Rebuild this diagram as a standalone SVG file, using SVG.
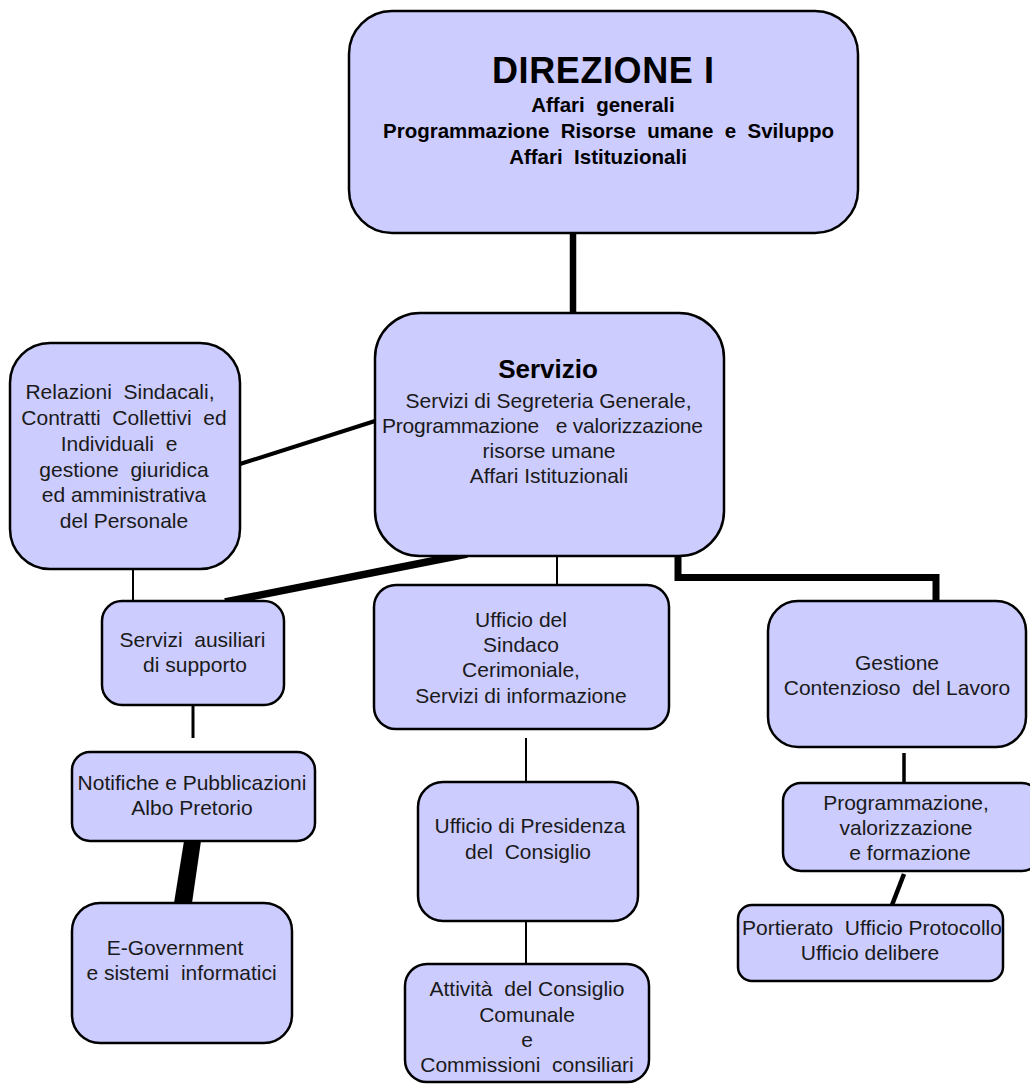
<svg xmlns="http://www.w3.org/2000/svg" width="1030" height="1087" viewBox="0 0 1030 1087">
<style>
.box{fill:#ccccff;stroke:#000;stroke-width:2.5}
.t{font-family:"Liberation Sans",Arial,sans-serif;font-size:21px;fill:#1a1a1a;text-anchor:middle;white-space:pre}
.b{font-weight:bold;fill:#000}
.h1{font-size:36px}
.h2{font-size:26px}
.s{font-size:20.5px}
.c{stroke:#000;fill:none;stroke-linecap:butt}
</style>
<rect width="1030" height="1087" fill="#fff"/>
<g id="connectors">
<line class="c" x1="573" y1="234" x2="573" y2="313" stroke-width="6.5"/>
<line class="c" x1="240" y1="464" x2="375" y2="421" stroke-width="4"/>
<line class="c" x1="133" y1="569" x2="133" y2="601" stroke-width="2"/>
<line class="c" x1="467" y1="554" x2="225" y2="602" stroke-width="7.5"/>
<line class="c" x1="557" y1="556" x2="557" y2="585" stroke-width="2"/>
<polyline class="c" points="678,556 678,577.5 936,577.5 936,601" stroke-width="7"/>
<line class="c" x1="193" y1="705" x2="193" y2="738" stroke-width="3"/>
<polygon points="184,841 201,841 192,903 174,903" fill="#000"/>
<line class="c" x1="526" y1="738" x2="526" y2="782" stroke-width="2"/>
<line class="c" x1="526" y1="921" x2="526" y2="964" stroke-width="2"/>
<line class="c" x1="904" y1="753" x2="904" y2="783" stroke-width="3.5"/>
<line class="c" x1="904" y1="874" x2="892" y2="905" stroke-width="4.5"/>
</g>
<g id="direzione">
<rect class="box" x="349" y="11" width="509" height="222" rx="43"/>
<text class="t b h1" x="603" y="83" textLength="222">DIREZIONE I</text>
<text class="t b s" x="603" y="112">Affari  generali</text>
<text class="t b s" x="608.5" y="138" textLength="451">Programmazione  Risorse  umane  e  Sviluppo</text>
<text class="t b s" x="598" y="164">Affari  Istituzionali</text>
</g>
<g id="servizio">
<rect class="box" x="375" y="313" width="349" height="243" rx="45"/>
<text class="t b h2" x="548" y="378">Servizio</text>
<text class="t" x="548.5" y="408">Servizi di Segreteria Generale,</text>
<text class="t" x="542.5" y="433" textLength="321">Programmazione   e valorizzazione</text>
<text class="t" x="549" y="458">risorse umane</text>
<text class="t" x="549" y="483">Affari Istituzionali</text>
</g>
<g id="relazioni">
<rect class="box" x="10" y="343" width="230" height="226" rx="40"/>
<text class="t" x="120" y="399">Relazioni  Sindacali,</text>
<text class="t" x="124" y="425">Contratti  Collettivi  ed</text>
<text class="t" x="119" y="451">Individuali  e</text>
<text class="t" x="124" y="477">gestione  giuridica</text>
<text class="t" x="124" y="502">ed amministrativa</text>
<text class="t" x="124" y="528">del Personale</text>
</g>
<g id="servizi-ausiliari">
<rect class="box" x="102" y="601" width="182" height="104" rx="20"/>
<text class="t" x="192.5" y="647">Servizi  ausiliari</text>
<text class="t" x="195" y="672">di supporto</text>
</g>
<g id="ufficio-sindaco">
<rect class="box" x="374" y="585" width="295" height="144" rx="22"/>
<text class="t" x="521" y="627">Ufficio del</text>
<text class="t" x="521" y="652">Sindaco</text>
<text class="t" x="521" y="677">Cerimoniale,</text>
<text class="t" x="521" y="703">Servizi di informazione</text>
</g>
<g id="gestione">
<rect class="box" x="768" y="601" width="258" height="146" rx="30"/>
<text class="t" x="897" y="670">Gestione</text>
<text class="t" x="897" y="695">Contenzioso  del Lavoro</text>
</g>
<g id="notifiche">
<rect class="box" x="72" y="752" width="243" height="89" rx="18"/>
<text class="t" x="192" y="790">Notifiche e Pubblicazioni</text>
<text class="t" x="192" y="815">Albo Pretorio</text>
</g>
<g id="egovernment">
<rect class="box" x="72" y="903" width="220" height="140" rx="28"/>
<text class="t" x="175" y="955">E-Government</text>
<text class="t" x="181.5" y="980">e sistemi  informatici</text>
</g>
<g id="presidenza">
<rect class="box" x="418" y="782" width="220" height="139" rx="25"/>
<text class="t" x="530" y="833">Ufficio di Presidenza</text>
<text class="t" x="528" y="859">del  Consiglio</text>
</g>
<g id="attivita">
<rect class="box" x="405" y="964" width="244" height="118" rx="22"/>
<text class="t" x="527" y="996">Attività  del Consiglio</text>
<text class="t" x="527" y="1022">Comunale</text>
<text class="t" x="527" y="1047">e</text>
<text class="t" x="527" y="1072">Commissioni  consiliari</text>
</g>
<g id="programmazione">
<rect class="box" x="783" y="783" width="257" height="88" rx="18"/>
<text class="t" x="906" y="810">Programmazione,</text>
<text class="t" x="906" y="835">valorizzazione</text>
<text class="t" x="910" y="860">e formazione</text>
</g>
<g id="portierato">
<rect class="box" x="738" y="905" width="265" height="76" rx="14"/>
<text class="t" x="872" y="935">Portierato  Ufficio Protocollo</text>
<text class="t" x="870" y="960">Ufficio delibere</text>
</g>
</svg>
